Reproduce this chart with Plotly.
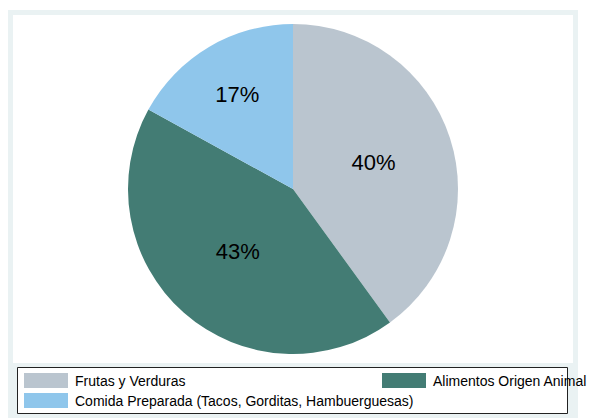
import plotly.graph_objects as go

# Food-type shares
categories = ["Frutas y Verduras", "Alimentos Origen Animal",
              "Comida Preparada (Tacos, Gorditas, Hambuerguesas)"]
shares = [40, 43, 17]
colors = ["#BAC5CF", "#437C74", "#8FC6EB"]

W, H = 589, 419
ML, MR, MT, MB = 13, 16, 15, 56
PW, PH = W - ML - MR, H - MT - MB


def px_x(p):
    return (p - ML) / PW


def px_y(p):
    return (H - MB - p) / PH


FONT = "Arial, Liberation Sans, sans-serif"

fig = go.Figure(go.Pie(
    labels=categories,
    values=shares,
    sort=False,
    direction="clockwise",
    rotation=0,
    marker=dict(colors=colors, line=dict(width=0)),
    texttemplate="%{percent:.0%}",
    textposition="inside",
    insidetextorientation="horizontal",
    textfont=dict(size=22, color="black", family=FONT),
    domain=dict(x=[0, 1], y=[px_y(354), px_y(24)]),
    showlegend=False,
    hoverinfo="label+percent",
))

shapes = [
    # outer graph region
    dict(type="rect", xref="paper", yref="paper", layer="below",
         x0=px_x(8), x1=px_x(578), y0=px_y(418), y1=px_y(10),
         fillcolor="#EAF2F3", line=dict(width=0)),
    # plot region
    dict(type="rect", xref="paper", yref="paper", layer="below",
         x0=px_x(13), x1=px_x(573), y0=px_y(363), y1=px_y(15),
         fillcolor="white", line=dict(width=0)),
    # legend box
    dict(type="rect", xref="paper", yref="paper", layer="below",
         x0=px_x(17.5), x1=px_x(567.5), y0=px_y(413.5), y1=px_y(367.5),
         fillcolor="white", line=dict(color="#222222", width=1)),
]

annotations = []
# legend entries: two columns, filled row by row
col_x = [24, 382]
row_y = [380.5, 400.5]
for i, (name, col) in enumerate(zip(categories, colors)):
    cx = col_x[i % 2]
    cy = row_y[i // 2]
    shapes.append(dict(type="rect", xref="paper", yref="paper",
                       x0=px_x(cx), x1=px_x(cx + 44),
                       y0=px_y(cy + 7.5), y1=px_y(cy - 7.5),
                       fillcolor=col, line=dict(width=0)))
    annotations.append(dict(xref="paper", yref="paper",
                            x=px_x(cx + 49), y=px_y(cy),
                            xanchor="left", yanchor="middle",
                            text=name, showarrow=False,
                            font=dict(size=14, color="black", family=FONT)))

fig.update_layout(
    width=W, height=H,
    margin=dict(l=ML, r=MR, t=MT, b=MB),
    paper_bgcolor="white",
    plot_bgcolor="white",
    shapes=shapes,
    annotations=annotations,
)

fig.write_html("out.html")
